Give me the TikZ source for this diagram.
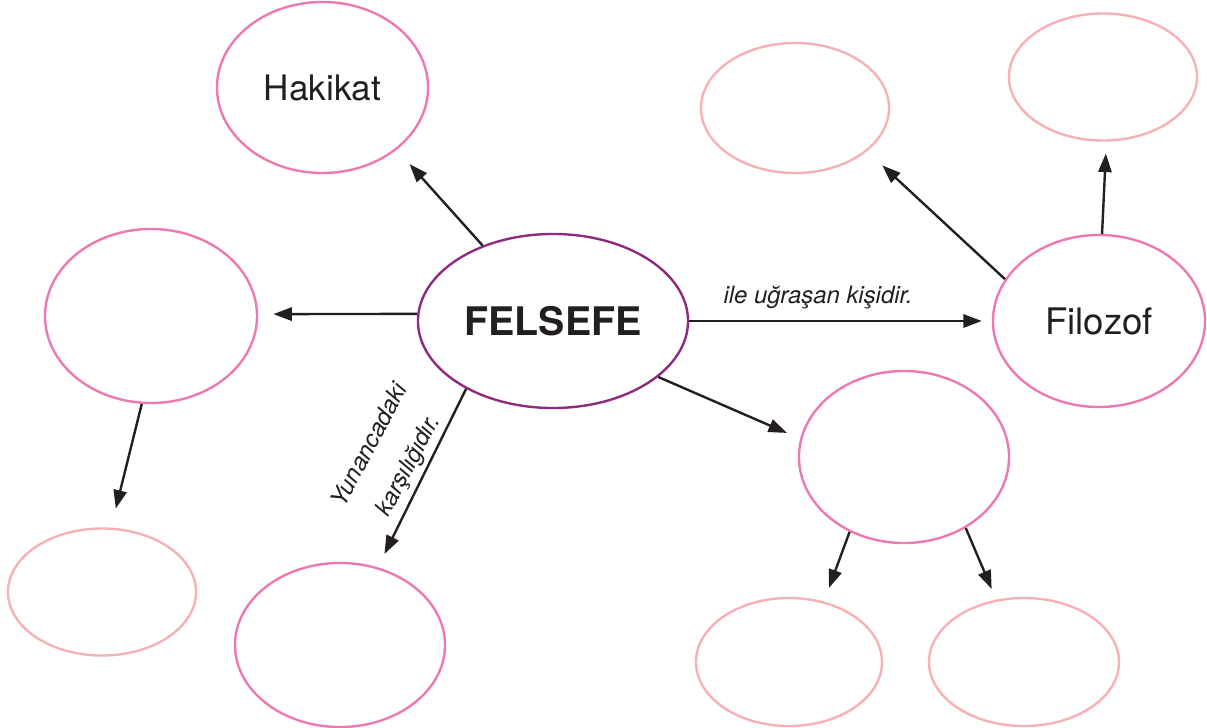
\documentclass[tikz,border=0pt]{standalone}
\usepackage{fontspec}
\setmainfont{TeX Gyre Heros}
\usetikzlibrary{arrows.meta,shapes.geometric}
\definecolor{purp}{HTML}{8E2B7E}
\definecolor{pinkA}{HTML}{EE78B2}
\definecolor{pinkB}{HTML}{F7B0B4}
\definecolor{ink}{HTML}{231F20}
\begin{document}
\begin{tikzpicture}[x=0.025cm,y=-0.025cm,
  oval/.style={ellipse, draw, line width=1.7pt, inner sep=0pt, text=ink},
  mainov/.style={oval, draw=purp},
  pk/.style={oval, draw=pinkA},
  lt/.style={oval, draw=pinkB},
  conn/.style={-{Triangle[length=0.46cm,width=0.33cm]}, line width=1.7pt, draw=ink},
  lbl/.style={text=ink, font=\fontsize{17}{25}\selectfont\itshape, inner sep=0pt}]
\useasboundingbox (0,0) rectangle (1207,728);
% nodes
\node[mainov, minimum width=6.75cm, minimum height=4.35cm, font=\fontsize{28}{32}\selectfont\bfseries] (fel) at (553,321) {FELSEFE};
\node[pk, minimum width=5.275cm, minimum height=4.275cm, font=\fontsize{25}{30}\selectfont] (hak) at (322.5,87.5) {Hakikat};
\node[pk, minimum width=5.3cm, minimum height=4.3cm, font=\fontsize{26}{30}\selectfont] (fil) at (1099,321) {Filozof};
\node[pk, minimum width=5.3cm, minimum height=4.35cm] (lm) at (151,316) {};
\node[lt, minimum width=4.7cm, minimum height=3.175cm] (bl) at (102,592) {};
\node[pk, minimum width=5.25cm, minimum height=4.1cm] (bm) at (340,645) {};
\node[lt, minimum width=4.7cm, minimum height=3.25cm] (tra) at (795,108) {};
\node[lt, minimum width=4.7cm, minimum height=3.175cm] (trb) at (1103,77) {};
\node[pk, minimum width=5.25cm, minimum height=4.3cm] (mr) at (904,457) {};
\node[lt, minimum width=4.65cm, minimum height=3.2cm] (bra) at (789,662) {};
\node[lt, minimum width=4.75cm, minimum height=3.2cm] (brb) at (1024,662) {};
% connectors
\draw[conn, shorten >=0.48cm] (fel.133) -- (hak.-40);
\draw[conn, shorten >=0.38cm] (fel.177) -- (lm.1.5);
\draw[conn, shorten >=0.49cm] (lm.-96) -- (bl.82.4);
\draw[conn, shorten >=0.37cm] (fel.218.7) -- (bm.64.5);
\draw[conn, shorten >=0.25cm] (fel.0) -- (fil.180);
\draw[conn, shorten >=0.36cm] (fel.-28) -- (mr.170.3);
\draw[conn, shorten >=0.52cm] (fil.156.4) -- (tra.-31.5);
\draw[conn, shorten >=0.30cm] (fil.88) -- (trb.-87.7);
\draw[conn, shorten >=0.36cm] (mr.234.2) -- (bra.60.3);
\draw[conn, shorten >=0.29cm] (mr.-49.3) -- (brb.114);
% labels
\node[lbl, anchor=base] (l1) at (818,303) {ile uğraşan kişidir.};
\node[lbl, rotate=62, align=center] (l2) at (390,456) {Yunancadaki\\[6pt]karşılığıdır.};
\end{tikzpicture}
\end{document}
